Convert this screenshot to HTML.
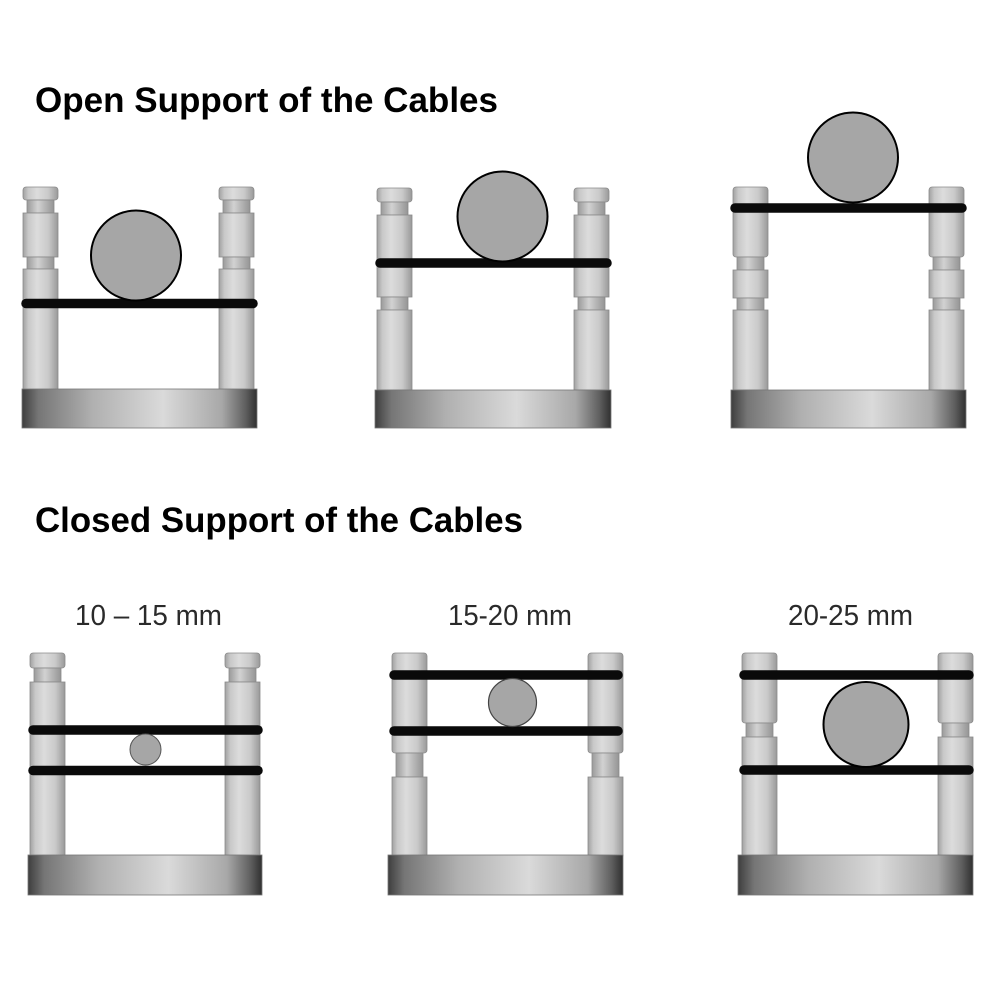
<!DOCTYPE html>
<html><head><meta charset="utf-8"><style>
html,body{margin:0;padding:0;background:#fff;}
svg{display:block;}
</style></head><body>
<svg width="1000" height="1000" viewBox="0 0 1000 1000" xmlns="http://www.w3.org/2000/svg">
<defs>
<linearGradient id="pg" x1="0" y1="0" x2="1" y2="0">
<stop offset="0" stop-color="#a0a0a0"/><stop offset="0.15" stop-color="#c8c8c8"/><stop offset="0.4" stop-color="#dcdcdc"/><stop offset="0.72" stop-color="#cacaca"/><stop offset="1" stop-color="#999"/>
</linearGradient>
<linearGradient id="ng" x1="0" y1="0" x2="1" y2="0">
<stop offset="0" stop-color="#9a9a9a"/><stop offset="0.4" stop-color="#d2d2d2"/><stop offset="1" stop-color="#949494"/>
</linearGradient>
<linearGradient id="bg" x1="0" y1="0" x2="1" y2="0">
<stop offset="0" stop-color="#3e3e3e"/><stop offset="0.07" stop-color="#767676"/><stop offset="0.3" stop-color="#b0b0b0"/><stop offset="0.6" stop-color="#dadada"/><stop offset="0.85" stop-color="#a8a8a8"/><stop offset="0.95" stop-color="#606060"/><stop offset="1" stop-color="#303030"/>
</linearGradient>
</defs>
<rect width="1000" height="1000" fill="#fff"/>

<g font-family="Liberation Sans, Arial, sans-serif">
<text x="35" y="112" font-size="35" font-weight="bold" fill="#000" textLength="463" lengthAdjust="spacingAndGlyphs">Open Support of the Cables</text>
<text x="35" y="532" font-size="35" font-weight="bold" fill="#000" textLength="488" lengthAdjust="spacingAndGlyphs">Closed Support of the Cables</text>
<text x="148.5" y="625" font-size="29" fill="#2a2a2a" text-anchor="middle" textLength="147" lengthAdjust="spacingAndGlyphs">10 – 15 mm</text>
<text x="510" y="625" font-size="29" fill="#2a2a2a" text-anchor="middle" textLength="124" lengthAdjust="spacingAndGlyphs">15-20 mm</text>
<text x="850.5" y="625" font-size="29" fill="#2a2a2a" text-anchor="middle" textLength="125" lengthAdjust="spacingAndGlyphs">20-25 mm</text>
</g>

<g stroke="#8a8a8a" stroke-width="0.8">
<!-- Fig1 pillars -->
<rect x="23" y="187" width="35" height="13" rx="3" fill="url(#pg)"/>
<rect x="27" y="200" width="27" height="13" fill="url(#ng)"/>
<rect x="23" y="213" width="35" height="44" fill="url(#pg)"/>
<rect x="27" y="257" width="27" height="12" fill="url(#ng)"/>
<rect x="23" y="269" width="35" height="121" fill="url(#pg)"/>
<rect x="219" y="187" width="35" height="13" rx="3" fill="url(#pg)"/>
<rect x="223" y="200" width="27" height="13" fill="url(#ng)"/>
<rect x="219" y="213" width="35" height="44" fill="url(#pg)"/>
<rect x="223" y="257" width="27" height="12" fill="url(#ng)"/>
<rect x="219" y="269" width="35" height="121" fill="url(#pg)"/>
<!-- Fig2 pillars -->
<rect x="377" y="188" width="35" height="14" rx="3" fill="url(#pg)"/>
<rect x="381" y="202" width="27" height="13" fill="url(#ng)"/>
<rect x="377" y="215" width="35" height="82" fill="url(#pg)"/>
<rect x="381" y="297" width="27" height="13" fill="url(#ng)"/>
<rect x="377" y="310" width="35" height="80" fill="url(#pg)"/>
<rect x="574" y="188" width="35" height="14" rx="3" fill="url(#pg)"/>
<rect x="578" y="202" width="27" height="13" fill="url(#ng)"/>
<rect x="574" y="215" width="35" height="82" fill="url(#pg)"/>
<rect x="578" y="297" width="27" height="13" fill="url(#ng)"/>
<rect x="574" y="310" width="35" height="80" fill="url(#pg)"/>
<!-- Fig3 pillars -->
<rect x="733" y="187" width="35" height="70" rx="3" fill="url(#pg)"/>
<rect x="737" y="257" width="27" height="13" fill="url(#ng)"/>
<rect x="733" y="270" width="35" height="28" fill="url(#pg)"/>
<rect x="737" y="298" width="27" height="12" fill="url(#ng)"/>
<rect x="733" y="310" width="35" height="80" fill="url(#pg)"/>
<rect x="929" y="187" width="35" height="70" rx="3" fill="url(#pg)"/>
<rect x="933" y="257" width="27" height="13" fill="url(#ng)"/>
<rect x="929" y="270" width="35" height="28" fill="url(#pg)"/>
<rect x="933" y="298" width="27" height="12" fill="url(#ng)"/>
<rect x="929" y="310" width="35" height="80" fill="url(#pg)"/>
<!-- Fig4 pillars -->
<rect x="30" y="653" width="35" height="15" rx="3" fill="url(#pg)"/>
<rect x="34" y="668" width="27" height="14" fill="url(#ng)"/>
<rect x="30" y="682" width="35" height="174" fill="url(#pg)"/>
<rect x="225" y="653" width="35" height="15" rx="3" fill="url(#pg)"/>
<rect x="229" y="668" width="27" height="14" fill="url(#ng)"/>
<rect x="225" y="682" width="35" height="174" fill="url(#pg)"/>
<!-- Fig5 pillars -->
<rect x="392" y="653" width="35" height="100" rx="3" fill="url(#pg)"/>
<rect x="396" y="753" width="27" height="24" fill="url(#ng)"/>
<rect x="392" y="777" width="35" height="79" fill="url(#pg)"/>
<rect x="588" y="653" width="35" height="100" rx="3" fill="url(#pg)"/>
<rect x="592" y="753" width="27" height="24" fill="url(#ng)"/>
<rect x="588" y="777" width="35" height="79" fill="url(#pg)"/>
<!-- Fig6 pillars -->
<rect x="742" y="653" width="35" height="70" rx="3" fill="url(#pg)"/>
<rect x="746" y="723" width="27" height="14" fill="url(#ng)"/>
<rect x="742" y="737" width="35" height="119" fill="url(#pg)"/>
<rect x="938" y="653" width="35" height="70" rx="3" fill="url(#pg)"/>
<rect x="942" y="723" width="27" height="14" fill="url(#ng)"/>
<rect x="938" y="737" width="35" height="119" fill="url(#pg)"/>
</g>

<!-- bases -->
<g stroke="#777" stroke-width="0.8" fill="url(#bg)">
<rect x="22" y="389" width="235" height="39"/>
<rect x="375" y="390" width="236" height="38"/>
<rect x="731" y="390" width="235" height="38"/>
<rect x="28" y="855" width="234" height="40"/>
<rect x="388" y="855" width="235" height="40"/>
<rect x="738" y="855" width="235" height="40"/>
</g>

<!-- bands -->
<g stroke="#0a0a0a" stroke-width="9.5" stroke-linecap="round">
<line x1="26" y1="303.5" x2="253" y2="303.5"/>
<line x1="380" y1="263" x2="607" y2="263"/>
<line x1="735" y1="208" x2="962" y2="208"/>
<line x1="33" y1="730" x2="258" y2="730"/>
<line x1="33" y1="770.5" x2="258" y2="770.5"/>
<line x1="394" y1="675" x2="618" y2="675"/>
<line x1="394" y1="731" x2="618" y2="731"/>
<line x1="744" y1="675" x2="969" y2="675"/>
<line x1="744" y1="770" x2="969" y2="770"/>
</g>

<!-- cables -->
<g fill="#a6a6a6">
<circle cx="136" cy="255.5" r="45" stroke="#000" stroke-width="2"/>
<circle cx="502.5" cy="216.5" r="45" stroke="#000" stroke-width="2"/>
<circle cx="853" cy="157.5" r="45" stroke="#000" stroke-width="2"/>
<circle cx="145.5" cy="749.5" r="15.5" stroke="#555" stroke-width="1"/>
<circle cx="512.5" cy="702.5" r="24" stroke="#444" stroke-width="1.2"/>
<circle cx="866" cy="724.5" r="42.5" stroke="#000" stroke-width="2"/>
</g>
</svg>
</body></html>
